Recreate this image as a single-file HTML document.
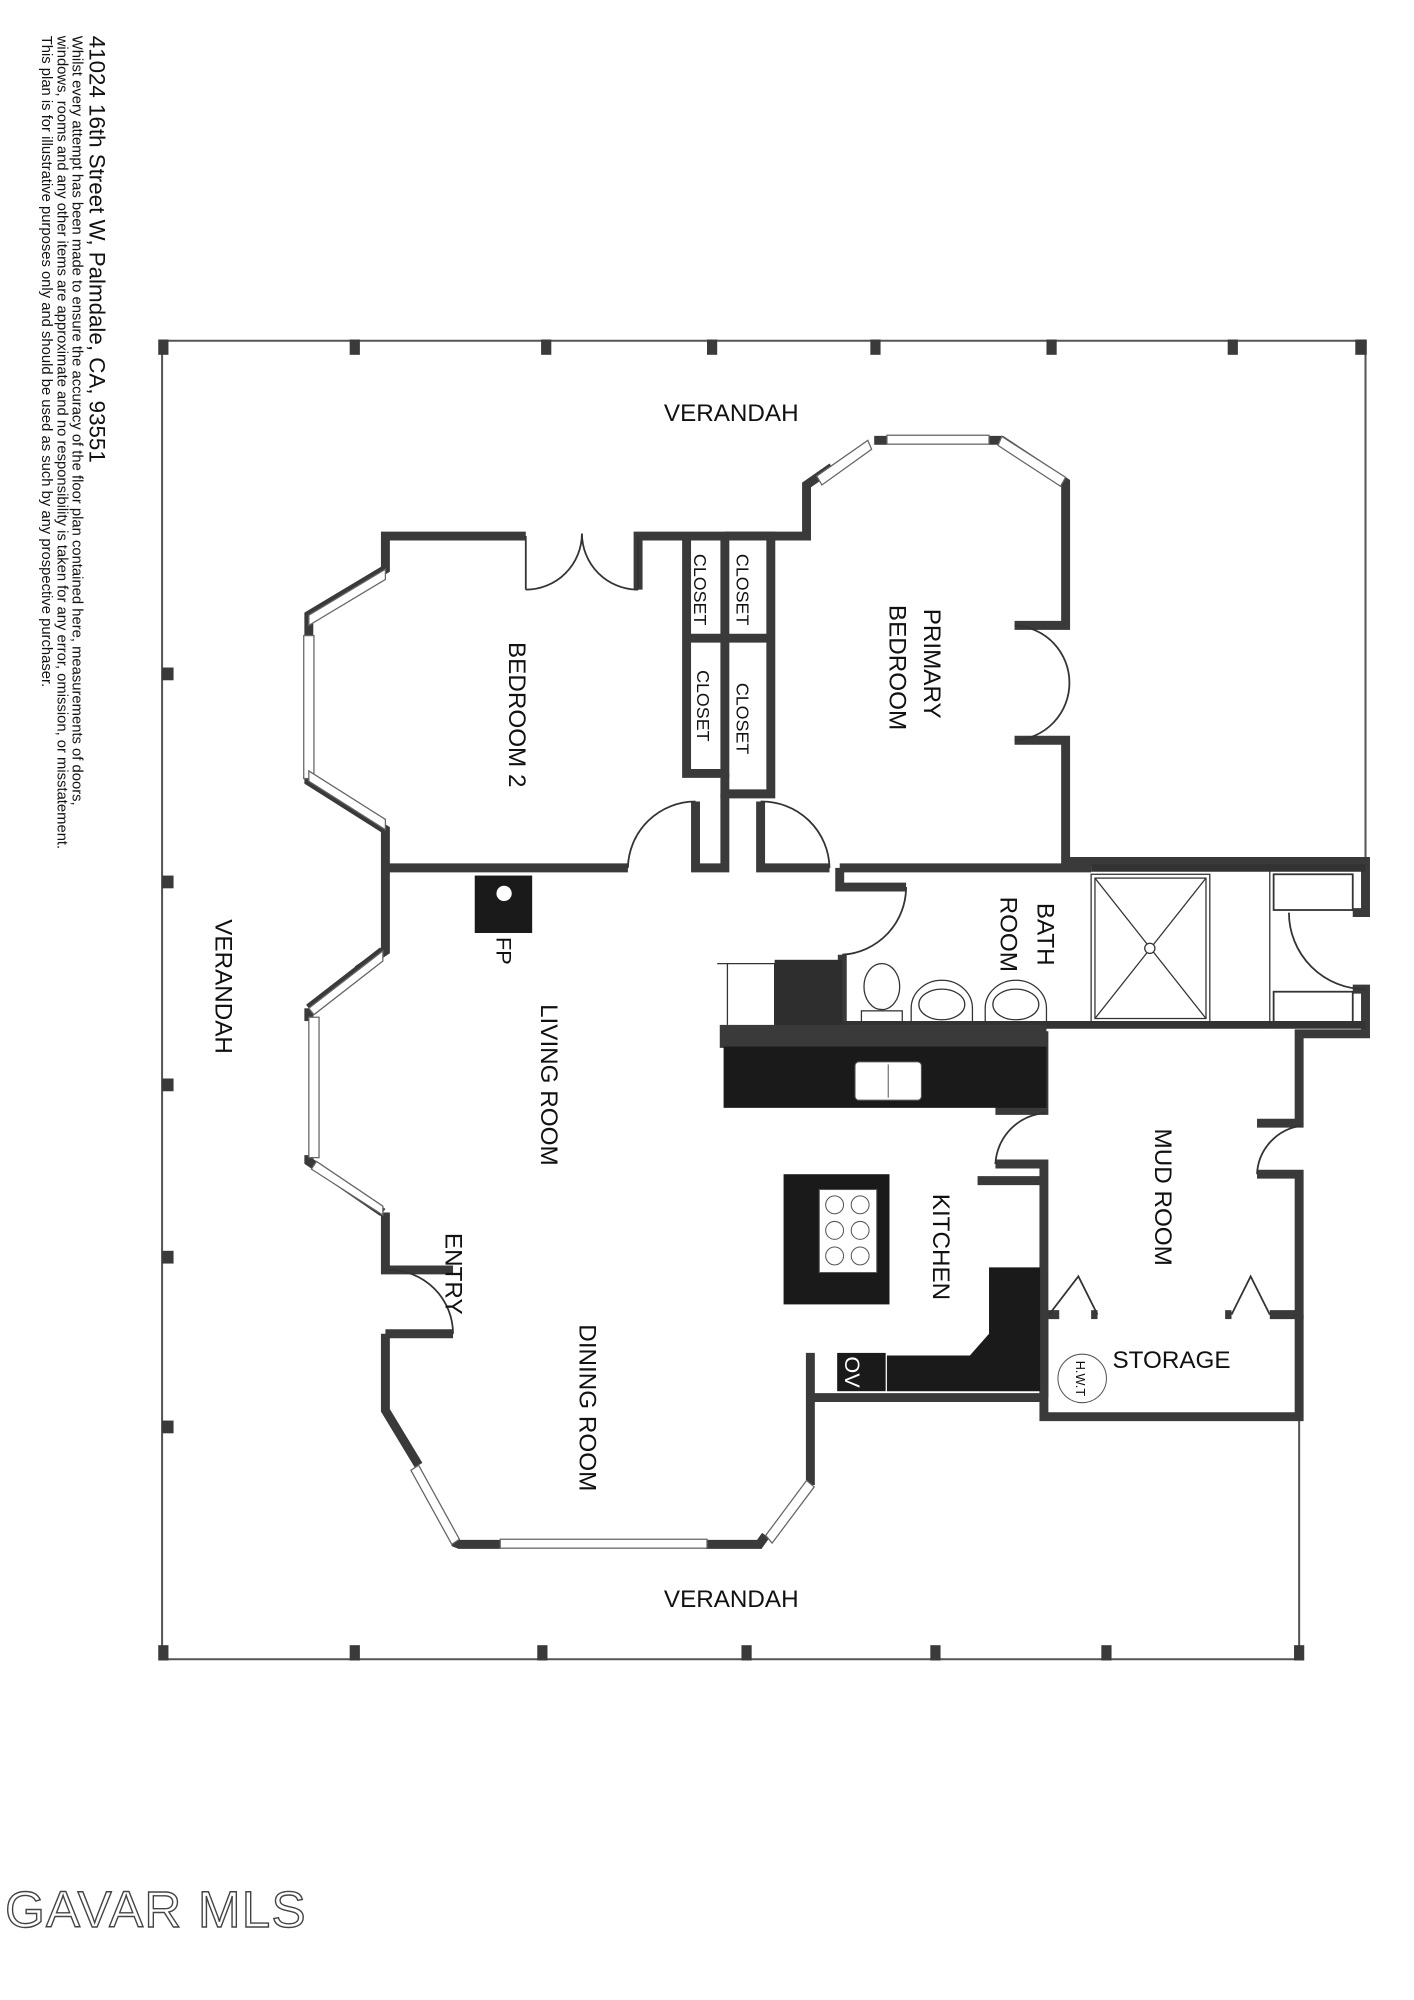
<!DOCTYPE html>
<html><head><meta charset="utf-8"><style>
html,body{margin:0;padding:0;background:#fff;}
svg{display:block;}
text{font-family:"Liberation Sans",sans-serif;}
</style></head><body>
<svg width="1414" height="2000" viewBox="0 0 1108 1567" preserveAspectRatio="none" xmlns="http://www.w3.org/2000/svg">
<rect width="1108" height="1567" fill="#fff"/>
<!-- side text -->
<g fill="#111">
<text transform="translate(70,28) rotate(90)" font-size="17.5">41024 16th Street W, Palmdale, CA, 93551</text>
<text transform="translate(57,28) rotate(90)" font-size="11.6">Whilst every attempt has been made to ensure the accuracy of the floor plan contained here, measurements of doors,</text>
<text transform="translate(45,28) rotate(90)" font-size="11.6">windows, rooms and any other items are approximate and no responsibility is taken for any error, omission, or misstatement.</text>
<text transform="translate(33,28) rotate(90)" font-size="11.6">This plan is for illustrative purposes only and should be used as such by any prospective purchaser.</text>
</g>
<text x="4" y="1510" font-size="40" style="fill:#fff;stroke:#444;stroke-width:1.1" letter-spacing="1">GAVAR MLS</text>

<!-- verandah outline -->
<g fill="none" stroke="#555" stroke-width="1.6">
<polyline points="127,267 1070,267 1070,675"/>
<polyline points="127,267 127,1300 1018,1300 1018,1110"/>
</g>
<g fill="#3a3a3a">
<rect x="124" y="266" width="8" height="12"/><rect x="274" y="266" width="8" height="12"/><rect x="424" y="266" width="8" height="12"/><rect x="554" y="266" width="8" height="12"/><rect x="682" y="266" width="8" height="12"/><rect x="820" y="266" width="8" height="12"/><rect x="962" y="266" width="8" height="12"/><rect x="1062" y="266" width="9" height="12"/>
<rect x="127" y="523" width="9" height="10"/><rect x="127" y="686" width="9" height="10"/><rect x="127" y="845" width="9" height="10"/><rect x="127" y="980" width="9" height="10"/><rect x="127" y="1113" width="9" height="10"/>
<rect x="274" y="1289" width="8" height="12"/><rect x="421" y="1289" width="8" height="12"/><rect x="581" y="1289" width="8" height="12"/><rect x="729" y="1289" width="8" height="12"/><rect x="863" y="1289" width="8" height="12"/><rect x="1014" y="1289" width="8" height="12"/><rect x="124" y="1289" width="8" height="12"/>
</g>

<!-- walls -->
<g fill="none" stroke="#3a3a3a" stroke-width="7" stroke-linejoin="miter">
<polyline points="412,420 302,420 302,446 242,482 242,500"/>
<polyline points="242,608 242,612 302,650 302,745 280,760"/>
<polyline points="500,462 500,420 632,420 632,380 652,366"/>
<polyline points="685,345 695,345"/>
<polyline points="775,345 785,345 835,378 835,490 795,490"/>
<polyline points="795,580 835,580 835,675 1070,675 1070,715 1060,715"/>
<polyline points="1060,775 1070,775 1070,810 1018,810 1018,880 985,880"/>
<polyline points="985,920 1018,920 1018,1030 995,1030"/>
<polyline points="965,1030 960,1030"/>
<polyline points="1018,1030 1018,1110 818,1110 818,1030 830,1030"/>
<polyline points="855,1030 860,1030"/>
<polyline points="302,680 492,680"/>
<polyline points="302,950 302,995 355,995"/>
<polyline points="302,1045 355,1045"/>
<polyline points="302,1045 302,1105 328,1148"/>
<polyline points="355,1208 360,1210 392,1210"/>
<polyline points="553,1210 595,1210 600,1203"/>
<polyline points="632,1160 635,1160 635,1060"/>
<polyline points="635,1095 818,1095"/>
<polyline points="818,808 818,870 780,870"/>
<polyline points="780,912 818,912 818,1095"/>
<polyline points="766,925 815,925"/>
<polyline points="658,680 855,680"/>
<polyline points="658,680 658,695 710,695"/>
<polyline points="660,748 660,803"/>
<polyline points="538,420 538,606 568,606 568,420"/>
<polyline points="568,420 604,420 604,622 568,622 568,606"/>
<polyline points="538,500 604,500"/>
<polyline points="545,628 545,680 568,680 568,622"/>
<polyline points="596,628 596,680 650,680"/>
<polyline points="242,790 300,745" />
<polyline points="242,790 242,800"/>
<polyline points="242,905 242,910 300,950"/>
</g>
<!-- windows -->
<g stroke="#666" stroke-width="1" fill="#fff">
<polygon points="302,446 242,482 242,490 302,454"/>
<rect x="238" y="498" width="8" height="112"/>
<polygon points="242,612 302,650 302,642 242,604"/>
<polygon points="242,790 300,745 300,753 246,795"/>
<rect x="242" y="797" width="8" height="110"/>
<polygon points="248,910 300,945 300,952 244,916"/>
<polygon points="328,1148 360,1206 354,1210 322,1152"/>
<rect x="392" y="1206" width="162" height="7"/>
<polygon points="600,1203 632,1160 638,1165 605,1209"/>
<polygon points="640,373 680,345 683,352 644,380"/>
<rect x="695" y="341" width="80" height="7"/>
<polygon points="785,342 835,374 831,381 782,349"/>
</g>
<!-- doors -->
<g fill="none" stroke="#333" stroke-width="1.4">
<path d="M412,462 A44,44 0 0 0 456,418 M500,462 A44,44 0 0 1 456,418"/>
<line x1="412" y1="420" x2="412" y2="462"/><line x1="500" y1="420" x2="500" y2="462"/>
<path d="M795,490 A45,45 0 0 1 838,535 A45,45 0 0 1 795,580"/>
<path d="M492,680 A53,53 0 0 1 545,628"/>
<path d="M596,628 A53,53 0 0 1 650,680"/>
<path d="M660,748 A53,53 0 0 0 710,695"/>
<path d="M1010,715 A60,60 0 0 0 1070,775"/>
<path d="M355,1045 A50,50 0 0 0 305,995"/>
<path d="M780,912 A42,42 0 0 1 820,872"/>
<path d="M985,920 A40,40 0 0 1 1020,882"/>
<polyline points="822,1030 845,1000 860,1030"/>
<polyline points="965,1030 980,1000 995,1030"/>
<rect x="998" y="685" width="62" height="28"/><rect x="998" y="777" width="62" height="25"/>
</g>
<!-- bath -->
<g fill="none" stroke="#333" stroke-width="1">
<line x1="660" y1="803" x2="1070" y2="803" stroke-width="6"/>
<line x1="855" y1="680" x2="1070" y2="680" stroke-width="6"/>
<rect x="855" y="685" width="93" height="116"/>
<rect x="858" y="688" width="87" height="110"/>
<line x1="858" y1="688" x2="945" y2="798"/><line x1="945" y1="688" x2="858" y2="798"/>
<circle cx="901" cy="743" r="4" fill="#fff"/>
<line x1="995" y1="680" x2="995" y2="803"/>
<ellipse cx="691" cy="773" rx="14" ry="18"/>
<rect x="675" y="792" width="32" height="9"/>
<path d="M714,801 L714,790 A24,22 0 0 1 762,790 L762,801"/><ellipse cx="738" cy="787" rx="18" ry="12"/>
<path d="M772,801 L772,790 A24,22 0 0 1 820,790 L820,801"/><ellipse cx="796" cy="787" rx="18" ry="12"/>
<polyline points="562,755 607,755 607,803"/>
<line x1="570" y1="755" x2="570" y2="803"/>
</g>
<!-- kitchen -->
<g fill="#1a1a1a">
<rect x="607" y="752" width="53" height="53" fill="#2e2e2e"/>
<rect x="564" y="803" width="256" height="18" fill="#3a3a3a"/>
<rect x="567" y="820" width="253" height="48"/>
<rect x="614" y="920" width="83" height="102"/>
<polygon points="775,993 815,993 815,1090 695,1090 695,1062 760,1062 775,1045"/>
<rect x="656" y="1060" width="38" height="30"/>
<rect x="372" y="686" width="45" height="45"/>
</g>
<circle cx="395" cy="700" r="6" fill="#fff"/>
<g fill="#fff" stroke="#555" stroke-width="0.8">
<rect x="670" y="832" width="52" height="30" rx="3"/>
<line x1="696" y1="834" x2="696" y2="860"/>
<rect x="642" y="932" width="45" height="65"/>
<circle cx="654" cy="944" r="7"/><circle cx="674" cy="944" r="7"/>
<circle cx="654" cy="964" r="7"/><circle cx="674" cy="964" r="7"/>
<circle cx="654" cy="984" r="7"/><circle cx="674" cy="984" r="7"/>
<circle cx="848" cy="1080" r="19"/>
</g>
<!-- labels -->
<g font-size="19" fill="#111">
<text x="573" y="330" text-anchor="middle">VERANDAH</text>
<text x="573" y="1259" text-anchor="middle">VERANDAH</text>
<text x="918" y="1072" text-anchor="middle">STORAGE</text>
<text transform="translate(169,773) rotate(90)" text-anchor="middle">VERANDAH</text>
<text transform="translate(399,560) rotate(90)" text-anchor="middle">BEDROOM 2</text>
<text transform="translate(724,520) rotate(90)" text-anchor="middle">PRIMARY</text>
<text transform="translate(697,523) rotate(90)" text-anchor="middle">BEDROOM</text>
<text transform="translate(424,850) rotate(90)" text-anchor="middle">LIVING ROOM</text>
<text transform="translate(454,1103) rotate(90)" text-anchor="middle">DINING ROOM</text>
<text transform="translate(349,998) rotate(90)" text-anchor="middle">ENTRY</text>
<text transform="translate(731,977) rotate(90)" text-anchor="middle">KITCHEN</text>
<text transform="translate(905,938) rotate(90)" text-anchor="middle">MUD ROOM</text>
<text transform="translate(813,732) rotate(90)" text-anchor="middle">BATH</text>
<text transform="translate(784,732) rotate(90)" text-anchor="middle">ROOM</text>
<text transform="translate(389,745) rotate(90)" text-anchor="middle" font-size="17">FP</text>
<text transform="translate(662,1075) rotate(90)" text-anchor="middle" font-size="17" style="fill:#fff">OV</text>
</g>
<g font-size="14" fill="#111">
<text transform="translate(544,462) rotate(90)" text-anchor="middle">CLOSET</text>
<text transform="translate(577,462) rotate(90)" text-anchor="middle">CLOSET</text>
<text transform="translate(546,553) rotate(90)" text-anchor="middle">CLOSET</text>
<text transform="translate(577,563) rotate(90)" text-anchor="middle">CLOSET</text>
<text transform="translate(843,1080) rotate(90)" text-anchor="middle" font-size="10">H.W.T</text>
</g>
</svg>
</body></html>
